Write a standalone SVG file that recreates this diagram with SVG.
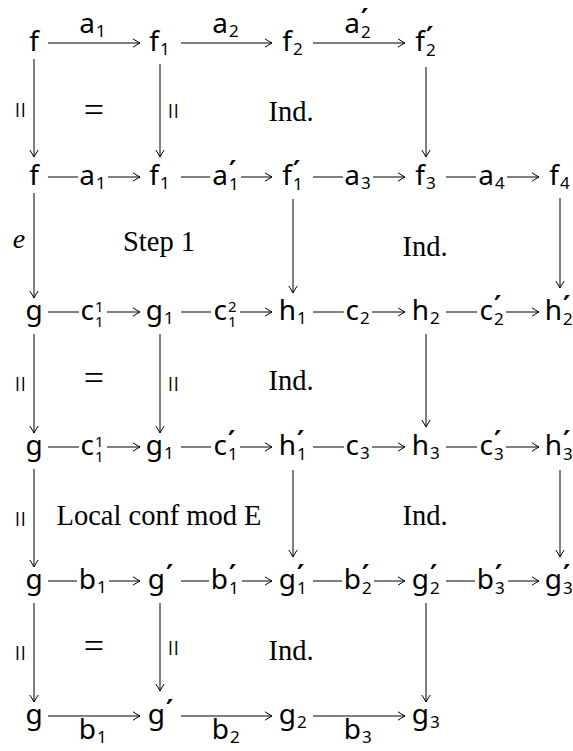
<svg xmlns="http://www.w3.org/2000/svg" width="573" height="751" viewBox="0 0 573 751">
<style>
.m{font-family:"Noto Sans",sans-serif;font-size:28px;fill:#000}
.s{font-size:17px}
.ss{font-size:15px}
.p{font-family:"DejaVu Sans",sans-serif;font-size:28px;font-weight:bold}
.e{text-anchor:end}
.mid{text-anchor:middle}
.t{font-family:"Liberation Serif",serif;font-size:28.5px;text-anchor:middle;fill:#000}
.eq{font-family:"Liberation Serif",serif;font-size:36px;text-anchor:middle;fill:#000}
.par{font-family:"Liberation Serif",serif;font-size:30px;text-anchor:middle;fill:#000}
.it{font-family:"Liberation Serif",serif;font-size:28px;font-style:italic;text-anchor:middle;fill:#000}
.ln{stroke:#000;stroke-width:1;fill:none}
.ar{marker-end:url(#ah)}
</style>
<defs>
<marker id="ah" markerUnits="userSpaceOnUse" markerWidth="12" markerHeight="12" viewBox="-9 -6 10 12" refX="0" refY="0" orient="auto" overflow="visible">
<path d="M-7,-4.2 Q-2.5,-1.2 0,0 Q-2.5,1.2 -7,4.2" fill="none" stroke="#000" stroke-width="1"/>
</marker>
</defs>

<g id="nodes">
<g id="r1c1"><text class="m mid" x="34" y="51">f</text></g>
<g id="r1c2"><text class="m"><tspan class="e" x="159" y="51">f</tspan><tspan class="s" x="160" y="55">1</tspan></text></g>
<g id="r1c3"><text class="m"><tspan class="e" x="292" y="51">f</tspan><tspan class="s" x="293" y="55">2</tspan></text></g>
<g id="r1c4"><text class="m"><tspan class="e" x="425" y="51">f</tspan><tspan class="p" x="426" y="47">′</tspan><tspan class="s" x="426" y="56">2</tspan></text></g>

<g id="r2c1"><text class="m mid" x="34" y="185">f</text></g>
<g id="r2c2"><text class="m"><tspan class="e" x="159" y="185">f</tspan><tspan class="s" x="160" y="189">1</tspan></text></g>
<g id="r2c3"><text class="m"><tspan class="e" x="292" y="185">f</tspan><tspan class="p" x="293" y="181">′</tspan><tspan class="s" x="293" y="190">1</tspan></text></g>
<g id="r2c4"><text class="m"><tspan class="e" x="425" y="185">f</tspan><tspan class="s" x="426" y="189">3</tspan></text></g>
<g id="r2c5"><text class="m"><tspan class="e" x="559" y="185">f</tspan><tspan class="s" x="560" y="189">4</tspan></text></g>

<g id="r3c1"><text class="m mid" x="34" y="320">g</text></g>
<g id="r3c2"><text class="m"><tspan class="e" x="163" y="320">g</tspan><tspan class="s" x="164" y="324">1</tspan></text></g>
<g id="r3c3"><text class="m"><tspan class="e" x="296" y="320">h</tspan><tspan class="s" x="297" y="324">1</tspan></text></g>
<g id="r3c4"><text class="m"><tspan class="e" x="429" y="320">h</tspan><tspan class="s" x="430" y="324">2</tspan></text></g>
<g id="r3c5"><text class="m"><tspan class="e" x="562" y="320">h</tspan><tspan class="p" x="563" y="316">′</tspan><tspan class="s" x="563" y="325">2</tspan></text></g>

<g id="r4c1"><text class="m mid" x="34" y="455">g</text></g>
<g id="r4c2"><text class="m"><tspan class="e" x="163" y="455">g</tspan><tspan class="s" x="164" y="459">1</tspan></text></g>
<g id="r4c3"><text class="m"><tspan class="e" x="296" y="455">h</tspan><tspan class="p" x="297" y="451">′</tspan><tspan class="s" x="297" y="460">1</tspan></text></g>
<g id="r4c4"><text class="m"><tspan class="e" x="429" y="455">h</tspan><tspan class="s" x="430" y="459">3</tspan></text></g>
<g id="r4c5"><text class="m"><tspan class="e" x="562" y="455">h</tspan><tspan class="p" x="563" y="451">′</tspan><tspan class="s" x="563" y="460">3</tspan></text></g>

<g id="r5c1"><text class="m mid" x="34" y="589">g</text></g>
<g id="r5c2"><text class="m"><tspan class="e" x="165" y="589">g</tspan><tspan class="p" x="166" y="585">′</tspan></text></g>
<g id="r5c3"><text class="m"><tspan class="e" x="296" y="589">g</tspan><tspan class="p" x="297" y="585">′</tspan><tspan class="s" x="297" y="594">1</tspan></text></g>
<g id="r5c4"><text class="m"><tspan class="e" x="429" y="589">g</tspan><tspan class="p" x="430" y="585">′</tspan><tspan class="s" x="430" y="594">2</tspan></text></g>
<g id="r5c5"><text class="m"><tspan class="e" x="562" y="589">g</tspan><tspan class="p" x="563" y="585">′</tspan><tspan class="s" x="563" y="594">3</tspan></text></g>

<g id="r6c1"><text class="m mid" x="34" y="724">g</text></g>
<g id="r6c2"><text class="m"><tspan class="e" x="165" y="724">g</tspan><tspan class="p" x="166" y="720">′</tspan></text></g>
<g id="r6c3"><text class="m"><tspan class="e" x="296" y="724">g</tspan><tspan class="s" x="297" y="728">2</tspan></text></g>
<g id="r6c4"><text class="m"><tspan class="e" x="429" y="724">g</tspan><tspan class="s" x="430" y="728">3</tspan></text></g>
</g>

<g id="cells">
<text class="eq" x="94" y="122">=</text>
<text class="t" x="291" y="121">Ind.</text>
<text class="t" x="159" y="251">Step 1</text>
<text class="t" x="425" y="256">Ind.</text>
<text class="eq" x="94" y="390">=</text>
<text class="t" x="291" y="390">Ind.</text>
<text class="t" x="159" y="525">Local conf mod E</text>
<text class="t" x="425" y="525">Ind.</text>
<text class="eq" x="94" y="658">=</text>
<text class="t" x="291" y="660">Ind.</text>
</g>

<g id="connectors">
<!-- row 1 -->
<g id="e-r1-12"><line class="ln ar" x1="48" y1="43" x2="140" y2="43"/><text class="m"><tspan class="e" x="95" y="33">a</tspan><tspan class="s" x="96" y="37">1</tspan></text></g>
<g id="e-r1-23"><line class="ln ar" x1="181" y1="43" x2="272" y2="43"/><text class="m"><tspan class="e" x="228" y="33">a</tspan><tspan class="s" x="229" y="37">2</tspan></text></g>
<g id="e-r1-34"><line class="ln ar" x1="313" y1="43" x2="405" y2="43"/><text class="m"><tspan class="e" x="360" y="33">a</tspan><tspan class="p" x="361" y="29">′</tspan><tspan class="s" x="361" y="38">2</tspan></text></g>
<!-- row 2 -->
<g id="e-r2-12"><line class="ln" x1="48" y1="177" x2="78" y2="177"/><line class="ln ar" x1="108" y1="177" x2="140" y2="177"/><text class="m"><tspan class="e" x="95" y="185">a</tspan><tspan class="s" x="96" y="189">1</tspan></text></g>
<g id="e-r2-23"><line class="ln" x1="181" y1="177" x2="210" y2="177"/><line class="ln ar" x1="241" y1="177" x2="272" y2="177"/><text class="m"><tspan class="e" x="228" y="185">a</tspan><tspan class="p" x="229" y="181">′</tspan><tspan class="s" x="229" y="190">1</tspan></text></g>
<g id="e-r2-34"><line class="ln" x1="313" y1="177" x2="343" y2="177"/><line class="ln ar" x1="373" y1="177" x2="405" y2="177"/><text class="m"><tspan class="e" x="360" y="185">a</tspan><tspan class="s" x="361" y="189">3</tspan></text></g>
<g id="e-r2-45"><line class="ln" x1="446" y1="177" x2="476" y2="177"/><line class="ln ar" x1="507" y1="177" x2="539" y2="177"/><text class="m"><tspan class="e" x="494" y="185">a</tspan><tspan class="s" x="495" y="189">4</tspan></text></g>
<!-- row 3 -->
<g id="e-r3-12"><line class="ln" x1="48" y1="312" x2="79" y2="312"/><line class="ln ar" x1="107" y1="312" x2="140" y2="312"/><text class="m"><tspan class="e" x="94" y="320">c</tspan><tspan class="ss" x="95" y="312">1</tspan><tspan class="ss" x="95" y="327">1</tspan></text></g>
<g id="e-r3-23"><line class="ln" x1="181" y1="312" x2="211" y2="312"/><line class="ln ar" x1="240" y1="312" x2="272" y2="312"/><text class="m"><tspan class="e" x="227" y="320">c</tspan><tspan class="ss" x="228" y="312">2</tspan><tspan class="ss" x="228" y="327">1</tspan></text></g>
<g id="e-r3-34"><line class="ln" x1="313" y1="312" x2="344" y2="312"/><line class="ln ar" x1="372" y1="312" x2="405" y2="312"/><text class="m"><tspan class="e" x="359" y="320">c</tspan><tspan class="s" x="360" y="324">2</tspan></text></g>
<g id="e-r3-45"><line class="ln" x1="446" y1="312" x2="477" y2="312"/><line class="ln ar" x1="506" y1="312" x2="539" y2="312"/><text class="m"><tspan class="e" x="493" y="320">c</tspan><tspan class="p" x="494" y="316">′</tspan><tspan class="s" x="494" y="325">2</tspan></text></g>
<!-- row 4 -->
<g id="e-r4-12"><line class="ln" x1="48" y1="447" x2="79" y2="447"/><line class="ln ar" x1="107" y1="447" x2="140" y2="447"/><text class="m"><tspan class="e" x="94" y="455">c</tspan><tspan class="ss" x="95" y="447">1</tspan><tspan class="ss" x="95" y="462">1</tspan></text></g>
<g id="e-r4-23"><line class="ln" x1="181" y1="447" x2="211" y2="447"/><line class="ln ar" x1="240" y1="447" x2="272" y2="447"/><text class="m"><tspan class="e" x="227" y="455">c</tspan><tspan class="p" x="228" y="451">′</tspan><tspan class="s" x="228" y="460">1</tspan></text></g>
<g id="e-r4-34"><line class="ln" x1="313" y1="447" x2="344" y2="447"/><line class="ln ar" x1="372" y1="447" x2="405" y2="447"/><text class="m"><tspan class="e" x="359" y="455">c</tspan><tspan class="s" x="360" y="459">3</tspan></text></g>
<g id="e-r4-45"><line class="ln" x1="446" y1="447" x2="477" y2="447"/><line class="ln ar" x1="506" y1="447" x2="539" y2="447"/><text class="m"><tspan class="e" x="493" y="455">c</tspan><tspan class="p" x="494" y="451">′</tspan><tspan class="s" x="494" y="460">3</tspan></text></g>
<!-- row 5 -->
<g id="e-r5-12"><line class="ln" x1="48" y1="581" x2="77" y2="581"/><line class="ln ar" x1="109" y1="581" x2="140" y2="581"/><text class="m"><tspan class="e" x="96" y="589">b</tspan><tspan class="s" x="97" y="593">1</tspan></text></g>
<g id="e-r5-23"><line class="ln" x1="181" y1="581" x2="209" y2="581"/><line class="ln ar" x1="242" y1="581" x2="272" y2="581"/><text class="m"><tspan class="e" x="228" y="589">b</tspan><tspan class="p" x="229" y="585">′</tspan><tspan class="s" x="229" y="594">1</tspan></text></g>
<g id="e-r5-34"><line class="ln" x1="313" y1="581" x2="342" y2="581"/><line class="ln ar" x1="374" y1="581" x2="405" y2="581"/><text class="m"><tspan class="e" x="361" y="589">b</tspan><tspan class="p" x="362" y="585">′</tspan><tspan class="s" x="362" y="594">2</tspan></text></g>
<g id="e-r5-45"><line class="ln" x1="446" y1="581" x2="475" y2="581"/><line class="ln ar" x1="508" y1="581" x2="539" y2="581"/><text class="m"><tspan class="e" x="494" y="589">b</tspan><tspan class="p" x="495" y="585">′</tspan><tspan class="s" x="495" y="594">3</tspan></text></g>
<!-- row 6 -->
<g id="e-r6-12"><line class="ln ar" x1="48" y1="716" x2="140" y2="716"/><text class="m"><tspan class="e" x="96" y="739">b</tspan><tspan class="s" x="97" y="743">1</tspan></text></g>
<g id="e-r6-23"><line class="ln ar" x1="181" y1="716" x2="272" y2="716"/><text class="m"><tspan class="e" x="229" y="739">b</tspan><tspan class="s" x="230" y="743">2</tspan></text></g>
<g id="e-r6-34"><line class="ln ar" x1="313" y1="716" x2="405" y2="716"/><text class="m"><tspan class="e" x="361" y="739">b</tspan><tspan class="s" x="362" y="743">3</tspan></text></g>
<!-- verticals col 1 -->
<g id="v-c1-12"><line class="ln ar" x1="34" y1="59" x2="34" y2="157"/><text class="par" transform="translate(18,110) rotate(90)" x="0" y="8">=</text></g>
<g id="v-c1-23"><line class="ln ar" x1="34" y1="193" x2="34" y2="298"/><text class="it" x="19" y="248">e</text></g>
<g id="v-c1-34"><line class="ln ar" x1="34" y1="334" x2="34" y2="433"/><text class="par" transform="translate(18,384) rotate(90)" x="0" y="8">=</text></g>
<g id="v-c1-45"><line class="ln ar" x1="34" y1="469" x2="34" y2="567"/><text class="par" transform="translate(18,519) rotate(90)" x="0" y="8">=</text></g>
<g id="v-c1-56"><line class="ln ar" x1="34" y1="603" x2="34" y2="702"/><text class="par" transform="translate(18,653) rotate(90)" x="0" y="8">=</text></g>
<!-- verticals col 2 -->
<g id="v-c2-12"><line class="ln ar" x1="160" y1="64" x2="160" y2="157"/><text class="par" transform="translate(171,111) rotate(90)" x="0" y="8">=</text></g>
<g id="v-c2-34"><line class="ln ar" x1="160" y1="334" x2="160" y2="433"/><text class="par" transform="translate(171,384) rotate(90)" x="0" y="8">=</text></g>
<g id="v-c2-56"><line class="ln ar" x1="160" y1="603" x2="160" y2="691"/><text class="par" transform="translate(171,648) rotate(90)" x="0" y="8">=</text></g>
<!-- verticals col 3 -->
<g id="v-c3-23"><line class="ln ar" x1="293" y1="199" x2="293" y2="293"/></g>
<g id="v-c3-45"><line class="ln ar" x1="293" y1="470" x2="293" y2="557"/></g>
<!-- verticals col 4 -->
<g id="v-c4-12"><line class="ln ar" x1="426" y1="67" x2="426" y2="157"/></g>
<g id="v-c4-34"><line class="ln ar" x1="426" y1="334" x2="426" y2="427"/></g>
<g id="v-c4-56"><line class="ln ar" x1="426" y1="603" x2="426" y2="702"/></g>
<!-- verticals col 5 -->
<g id="v-c5-23"><line class="ln ar" x1="560" y1="198" x2="560" y2="288"/></g>
<g id="v-c5-45"><line class="ln ar" x1="560" y1="470" x2="560" y2="557"/></g>
</g>
</svg>
